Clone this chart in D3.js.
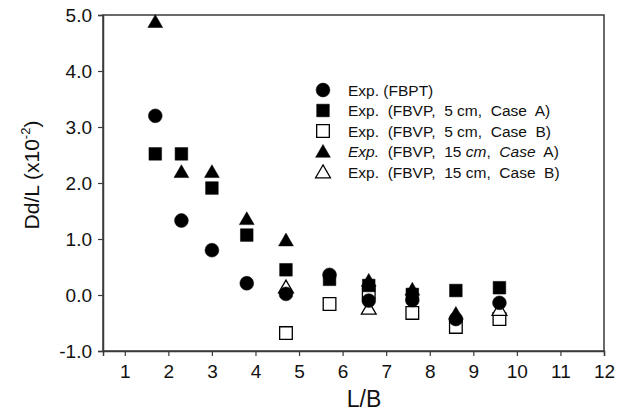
<!DOCTYPE html>
<html><head><meta charset="utf-8">
<script src="https://cdn.jsdelivr.net/npm/d3@7"></script>
<style>body{margin:0;background:#fff}svg{display:block}text{font-family:Arial,"Liberation Sans",sans-serif;fill:#111}</style>
</head><body><svg id="c" width="629" height="414"></svg>
<script>
const xTicks = [1,2,3,4,5,6,7,8,9,10,11,12];
const yTicks = [-1,0,1,2,3,4,5];

const fbptX = [1.7, 2.3, 3.0, 3.8, 4.7, 5.7, 6.6, 7.6, 8.6, 9.6];
const fbptY = [3.2, 1.33, 0.8, 0.21, 0.02, 0.36, -0.1, -0.09, -0.43, -0.14];

const v5aX = [1.7, 2.3, 3.0, 3.8, 4.7, 5.7, 6.6, 7.6, 8.6, 9.6];
const v5aY = [2.52, 2.52, 1.91, 1.07, 0.45, 0.28, 0.17, 0.01, 0.08, 0.13];

const v5bX = [4.7, 5.7, 6.6, 7.6, 8.6, 9.6];
const v5bY = [-0.68, -0.16, 0.05, -0.32, -0.57, -0.43];

const v15aX = [1.7, 2.3, 3.0, 3.8, 4.7, 6.6, 7.6, 8.6];
const v15aY = [4.88, 2.2, 2.2, 1.36, 0.98, 0.26, 0.1, -0.33];

const v15bX = [4.7, 6.6, 9.6];
const v15bY = [0.14, -0.24, -0.26];

const legendLabels = [
  [["Exp.", false], [" (FBPT)", false]],
  [["Exp.", false], ["  (FBVP,  5 cm,  Case  A)", false]],
  [["Exp.", false], ["  (FBVP,  5 cm,  Case  B)", false]],
  [["Exp.", true], ["  (FBVP,  15 ", false], ["cm", true], [",  ", false], ["Case", true], ["  A)", false]],
  [["Exp.", false], ["  (FBVP,  15 cm,  Case  B)", false]]
];

const svg = d3.select("#c");
const L = 103, R = 604, T = 15, B = 351;
const x = d3.scaleLinear().domain([0.5, 12]).range([L, R]);
const y = d3.scaleLinear().domain([-1, 5]).range([B, T]);

// frame
const ax = "#3a3a3a";
svg.append("rect").attr("x", L).attr("y", T).attr("width", R - L).attr("height", B - T)
  .attr("fill", "none").attr("stroke", ax).attr("stroke-width", 1.5);

const xa = svg.append("g").attr("transform", `translate(0,${B})`)
  .call(d3.axisBottom(x).tickValues(xTicks).tickSize(5).tickPadding(9).tickFormat(d3.format("d")));
const ya = svg.append("g").attr("transform", `translate(${L},0)`)
  .call(d3.axisLeft(y).tickValues(yTicks).tickSize(5).tickPadding(6)
    .tickFormat(d => d3.format(".1f")(d).replace("\u2212", "-")));
[xa, ya].forEach(g => {
  g.select(".domain").attr("stroke", ax).attr("stroke-width", 1.5);
  g.selectAll(".tick line").attr("stroke", ax).attr("stroke-width", 1.2);
  g.selectAll(".tick text").attr("font-size", 19).attr("fill", "#111")
   .style("font-family", "Arial, 'Liberation Sans', sans-serif");
});

// axis titles
svg.append("text").attr("x", 364).attr("y", 407).attr("text-anchor", "middle")
  .attr("font-size", 23).text("L/B");
const yl = svg.append("text").attr("transform", "translate(39,175) rotate(-90)")
  .attr("text-anchor", "middle").attr("font-size", 21);
yl.append("tspan").text("Dd/L (x10");
yl.append("tspan").attr("font-size", 13).attr("dy", -9).text("-2");
yl.append("tspan").attr("dy", 9).text(")");

// markers
const sym = (type, size) => d3.symbol().type(type).size(size)();
const shapes = {
  circle: sym(d3.symbolCircle, 150),
  square: sym(d3.symbolSquare, 160),
  tri: sym(d3.symbolTriangle, 95)
};
const series = [
  {xs: v5bX, ys: v5bY, shape: "square", fill: "#fff"},
  {xs: v15bX, ys: v15bY, shape: "tri", fill: "#fff"},
  {xs: v5aX, ys: v5aY, shape: "square", fill: "#000"},
  {xs: v15aX, ys: v15aY, shape: "tri", fill: "#000"},
  {xs: fbptX, ys: fbptY, shape: "circle", fill: "#000"}
];
series.forEach(s => {
  svg.append("g").selectAll("path").data(s.xs.map((v, i) => [v, s.ys[i]])).join("path")
    .attr("d", shapes[s.shape])
    .attr("transform", d => `translate(${x(d[0])},${y(d[1]) + (s.shape === "tri" ? 1.5 : 0)})`)
    .attr("fill", s.fill).attr("stroke", "#000").attr("stroke-width", s.fill === "#fff" ? 1.3 : 0.5);
});

// legend
const legShapes = [["circle", "#000"], ["square", "#000"], ["square", "#fff"], ["tri", "#000"], ["tri", "#fff"]];
const lg = svg.append("g");
legShapes.forEach((m, i) => {
  const cy = 90 + i * 20.5;
  lg.append("path").attr("d", shapes[m[0]]).attr("transform", `translate(323,${cy + (m[0] === "tri" ? 1.5 : 0)})`)
    .attr("fill", m[1]).attr("stroke", "#000").attr("stroke-width", m[1] === "#fff" ? 1.3 : 0.5);
  const t = lg.append("text").attr("x", 348).attr("y", cy + 5.5).attr("font-size", 15.5)
    .style("white-space", "pre").attr("xml:space", "preserve");
  legendLabels[i].forEach(p => t.append("tspan").attr("font-style", p[1] ? "italic" : "normal").text(p[0]));
});
</script></body></html>
